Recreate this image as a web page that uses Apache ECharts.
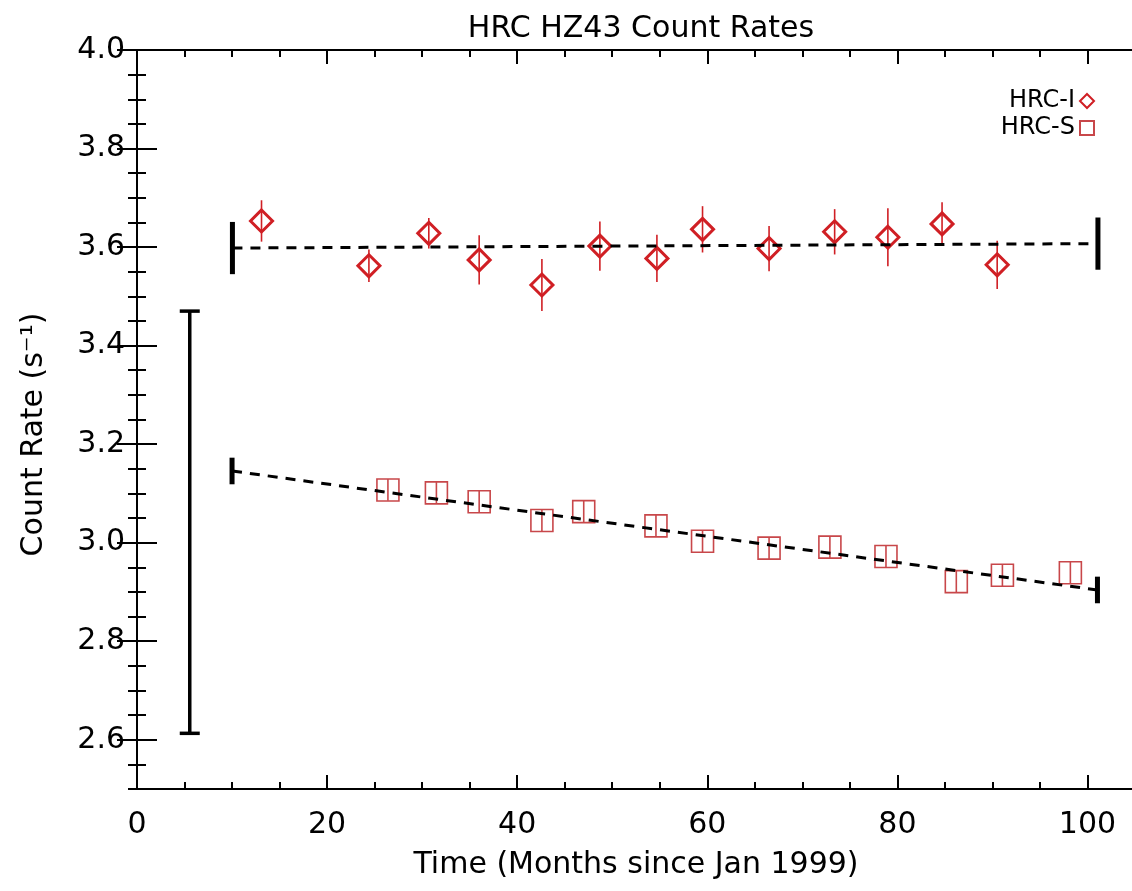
<!DOCTYPE html>
<html>
<head>
<meta charset="utf-8">
<script src="https://cdn.jsdelivr.net/npm/echarts@6/dist/echarts.min.js"></script>
<style>
html,body{margin:0;padding:0;background:#fff;}
#chart{width:1132px;height:891px;}
</style>
</head>
<body>
<div id="chart"></div>
<script>
// ---- data ----
const titleText = 'HRC HZ43 Count Rates';
const xName = 'Time (Months since Jan 1999)';
const yName = 'Count Rate (s\u207B\u00B9)';
const xTicks = [0, 20, 40, 60, 80, 100];
const yTicks = [2.6, 2.8, 3.0, 3.2, 3.4, 3.6, 3.8, 4.0];

const hrcI_x   = [13.1, 24.4, 30.7, 36.0, 42.6, 48.7, 54.7, 59.5, 66.5, 73.4, 79.0, 84.7, 90.5];
const hrcI_y   = [3.653, 3.562, 3.628, 3.574, 3.523, 3.602, 3.577, 3.636, 3.597, 3.631, 3.620, 3.647, 3.564];
const hrcI_err = [0.042, 0.033, 0.031, 0.050, 0.053, 0.050, 0.048, 0.047, 0.046, 0.046, 0.059, 0.044, 0.049];

const hrcS_x   = [26.4, 31.5, 36.0, 42.6, 47.0, 54.6, 59.5, 66.5, 72.9, 78.8, 86.2, 91.05, 98.2];
const hrcS_y   = [3.107, 3.101, 3.083, 3.045, 3.063, 3.034, 3.003, 2.989, 2.991, 2.972, 2.921, 2.934, 2.939];
const hrcS_err = [0.022, 0.022, 0.022, 0.022, 0.022, 0.022, 0.022, 0.022, 0.022, 0.022, 0.022, 0.022, 0.022];

const fitI_x = [10.04, 101.1];
const fitI_y = [3.598, 3.607];
const fitI_endErr = 0.053;
const fitS_x = [10.0, 101.05];
const fitS_y = [3.1455, 2.904];
const fitS_endErr = 0.027;

const bigBar_x = [5.55];
const bigBar_lo = [2.613];
const bigBar_hi = [3.47];

// ---- build ----
const RED = '#d01f24';
const SRED = '#c8474a';
const FONT = 'DejaVu Sans';

function zip2(a, b) { return a.map((v, i) => [v, b[i]]); }
function errData(xs, ys, es) { return xs.map((v, i) => [v, ys[i] - es[i], ys[i] + es[i]]); }

function errRender(capHalf, lw, color) {
  return function (params, api) {
    const x = api.value(0), lo = api.value(1), hi = api.value(2);
    const p1 = api.coord([x, lo]), p2 = api.coord([x, hi]);
    const children = [{
      type: 'line',
      shape: { x1: p1[0], y1: p1[1], x2: p2[0], y2: p2[1] },
      style: { stroke: color, lineWidth: lw }
    }];
    if (capHalf > 0) {
      children.push({ type: 'line', shape: { x1: p1[0] - capHalf, y1: p1[1], x2: p1[0] + capHalf, y2: p1[1] }, style: { stroke: color, lineWidth: lw } });
      children.push({ type: 'line', shape: { x1: p2[0] - capHalf, y1: p2[1], x2: p2[0] + capHalf, y2: p2[1] }, style: { stroke: color, lineWidth: lw } });
    }
    return { type: 'group', children: children };
  };
}

const axisLine = { show: true, lineStyle: { color: '#000', width: 2 } };
const labelStyle = { color: '#000', fontFamily: FONT, fontSize: 30, fontWeight: 'normal' };
const nameStyle = { color: '#000', fontFamily: FONT, fontSize: 30, fontWeight: 'normal' };

function xAx(pos, major, showLabel) {
  return {
    type: 'value', position: pos, min: 0, max: 105,
    interval: major ? 20 : 5,
    axisLine: axisLine,
    splitLine: { show: false },
    axisTick: { show: true, inside: true, length: major ? 14 : 7, lineStyle: { color: '#000', width: 2 },
      customValues: major ? xTicks : undefined },
    axisLabel: showLabel ? Object.assign({ margin: 21, customValues: xTicks }, labelStyle) : { show: false },
    name: showLabel ? xName : '',
    nameLocation: 'middle', nameGap: 61,
    nameTextStyle: nameStyle
  };
}
function yAx(pos, major, showLabel) {
  return {
    type: 'value', position: pos, min: 2.5, max: 4.0,
    interval: major ? undefined : 0.05,
    axisLine: axisLine,
    splitLine: { show: false },
    axisTick: { show: true, inside: true, length: major ? 20 : 9, lineStyle: { color: '#000', width: 2 },
      customValues: major ? yTicks : undefined },
    axisLabel: showLabel ? Object.assign({ margin: 12, customValues: yTicks, padding: [8, 0, 0, 0],
      formatter: v => v.toFixed(1) }, labelStyle) : { show: false },
    name: showLabel ? yName : '',
    nameLocation: 'middle', nameGap: 88,
    nameTextStyle: Object.assign({ padding: [0, 30, 0, 0] }, nameStyle)
  };
}

const option = {
  animation: false,
  backgroundColor: '#fff',
  title: {
    text: titleText, left: 636, textAlign: 'center', top: 9,
    textStyle: { color: '#000', fontFamily: FONT, fontSize: 30, fontWeight: 'normal' }
  },
  legend: {
    data: ['HRC-I', 'HRC-S'],
    orient: 'vertical', right: 32, top: 84, align: 'right',
    itemWidth: 14, itemHeight: 14, itemGap: 3,
    textStyle: { color: '#000', fontFamily: FONT, fontSize: 24, fontWeight: 'normal' }
  },
  grid: { left: 137, right: -3, top: 50, bottom: 102, containLabel: false, outerBoundsMode: 'none' },
  xAxis: [xAx('bottom', true, true), xAx('bottom', false, false), xAx('top', true, false), xAx('top', false, false)],
  yAxis: [yAx('left', true, true), yAx('left', false, false), yAx('right', true, false), yAx('right', false, false)],
  series: [
    {
      name: 'HRC-S', type: 'scatter', data: zip2(hrcS_x, hrcS_y),
      symbol: 'rect', symbolSize: 22, z: 3,
      itemStyle: { color: 'rgba(255,255,255,0)', borderColor: SRED, borderWidth: 1.6, opacity: 1 }
    },
    {
      type: 'custom', name: 'errS', data: errData(hrcS_x, hrcS_y, hrcS_err),
      encode: { x: 0, y: [1, 2] }, renderItem: errRender(0, 1.6, SRED), z: 3
    },
    {
      name: 'HRC-I', type: 'scatter', data: zip2(hrcI_x, hrcI_y),
      symbol: 'diamond', symbolSize: 22, z: 4,
      itemStyle: { color: 'rgba(255,255,255,0)', borderColor: RED, borderWidth: 3, opacity: 1 }
    },
    {
      type: 'custom', name: 'errI', data: errData(hrcI_x, hrcI_y, hrcI_err),
      encode: { x: 0, y: [1, 2] }, renderItem: errRender(0, 1.6, RED), z: 4
    },
    {
      type: 'line', name: 'fitI', data: zip2(fitI_x, fitI_y), symbol: 'none', z: 5,
      lineStyle: { color: '#000', width: 3, type: [10, 8] }
    },
    {
      type: 'line', name: 'fitS', data: zip2(fitS_x, fitS_y), symbol: 'none', z: 5,
      lineStyle: { color: '#000', width: 3, type: [10, 8] }
    },
    {
      type: 'custom', name: 'fitEnds', z: 6,
      data: errData(fitI_x, fitI_y, [fitI_endErr, fitI_endErr]).concat(errData(fitS_x, fitS_y, [fitS_endErr, fitS_endErr])),
      encode: { x: 0, y: [1, 2] }, renderItem: errRender(0, 5, '#000')
    },
    {
      type: 'custom', name: 'bigBar', z: 6,
      data: bigBar_x.map((v, i) => [v, bigBar_lo[i], bigBar_hi[i]]),
      encode: { x: 0, y: [1, 2] }, renderItem: errRender(10, 3.5, '#000')
    }
  ]
};

const chart = echarts.init(document.getElementById('chart'), null, { renderer: 'canvas' });
chart.setOption(option);
</script>
</body>
</html>
